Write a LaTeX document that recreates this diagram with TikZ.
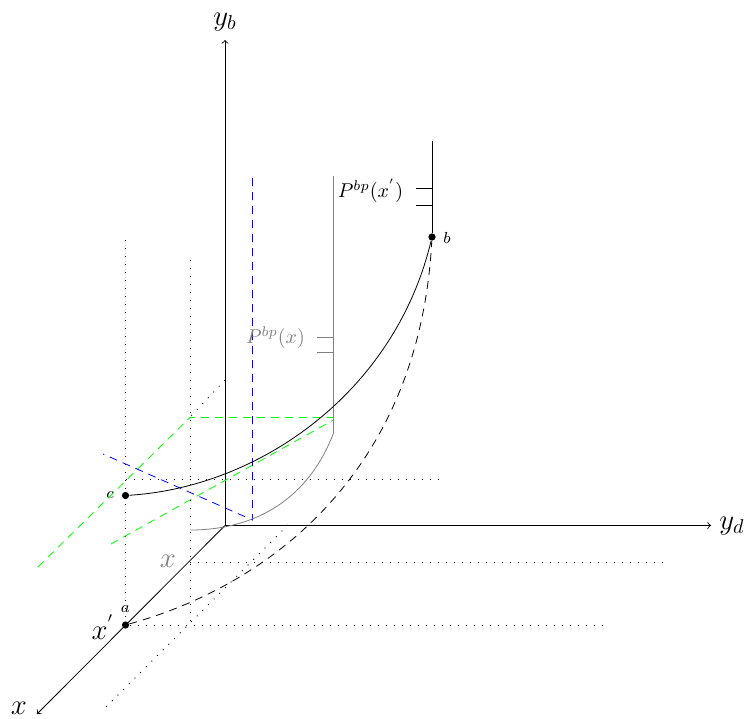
\documentclass[tikz,border=0pt]{standalone}
\usepackage{amsmath}
\usetikzlibrary{positioning}
\begin{document}
\begin{tikzpicture}[x=0.5pt,y=-0.5pt,
  dot/.style={circle,fill,inner sep=0pt,minimum size=3.6pt},
  guide/.style={dash pattern=on 0.5pt off 3.5pt},
  longdash/.style={dash pattern=on 4pt off 3pt},
  greenline/.style={longdash,green},
  blueline/.style={longdash,blue},
  cost/.style={gray},
  biglabel/.style={font=\Large,inner sep=0pt},
  smalllabel/.style={font=\footnotesize,inner sep=0pt},
  pricelabel/.style={font=\normalsize,inner sep=0pt}]
\useasboundingbox (0,0) rectangle (744,718);
% axes
\coordinate (origin) at (225,525.5);
\node[biglabel] (yb) at (225,22) {$y_b$};
\node[biglabel] (yd) at (732,526) {$y_d$};
\node[biglabel] (xaxis) at (19,708) {$x$};
\draw[->] (origin)--(225,40);
\draw[->] (origin)--(711,525.5);
\draw[->] (origin)--(37,714);
% points
\node[dot] (a) at (125.5,625) {};
\node[dot] (b) at (432,237) {};
\node[dot] (c) at (125.5,495.5) {};
\node[smalllabel] (alabel) at (125.5,609) {$a$};
\node[smalllabel] (blabel) at (447,238) {$b$};
\node[smalllabel] (clabel) at (110,495.5) {$c$};
\node[biglabel] (xprime) at (103,627) {$x^{'}$};
\node[biglabel,gray] (xlabel) at (168,561) {$x$};
% dotted guides
\coordinate (xv) at (190,625);
\coordinate (xh) at (190,562.5);
\draw[guide] (125.5,240)--(a);
\draw[guide] (190,260)--(xv);
\draw[guide] (a)--(606,625);
\draw[guide] (xh)--(668,562.5);
\draw[guide] (125.5,479)--(440,479);
\draw[guide] (225,380)--(190,417);
\draw[guide] (288,525)--(103,710);
% green and blue
\coordinate (gtop) at (190,417.5);
\coordinate (gright) at (333.5,417.5);
\coordinate (bfoot) at (252.5,520);
\draw[greenline] (38,567)--(gtop)--(gright);
\draw[greenline] (111,544)--(333.5,420);
\draw[blueline] (252.5,178)--(bfoot)--(103,454);
% gray price line
\draw[cost] (333.5,176)--(333.5,433) .. controls (310,495) and (260,530) .. (190,530);
\draw[cost] (317,337.5)--(333.5,337.5);
\draw[cost] (317,352.5)--(333.5,352.5);
\node[pricelabel,gray] (px) at (275.5,338) {$P^{bp}(x)$};
% black price line
\draw (b)--(432,141);
\draw (416,188.5)--(432,188.5);
\draw (416,205.5)--(432,205.5);
\node[pricelabel] (pxprime) at (370.5,191) {$P^{bp}(x^{'})$};
% curves
\draw (c) .. controls (260,487) and (395,392) .. (b);
\draw[longdash] (a) .. controls (280,582) and (420,463) .. (b);
\end{tikzpicture}
\end{document}
